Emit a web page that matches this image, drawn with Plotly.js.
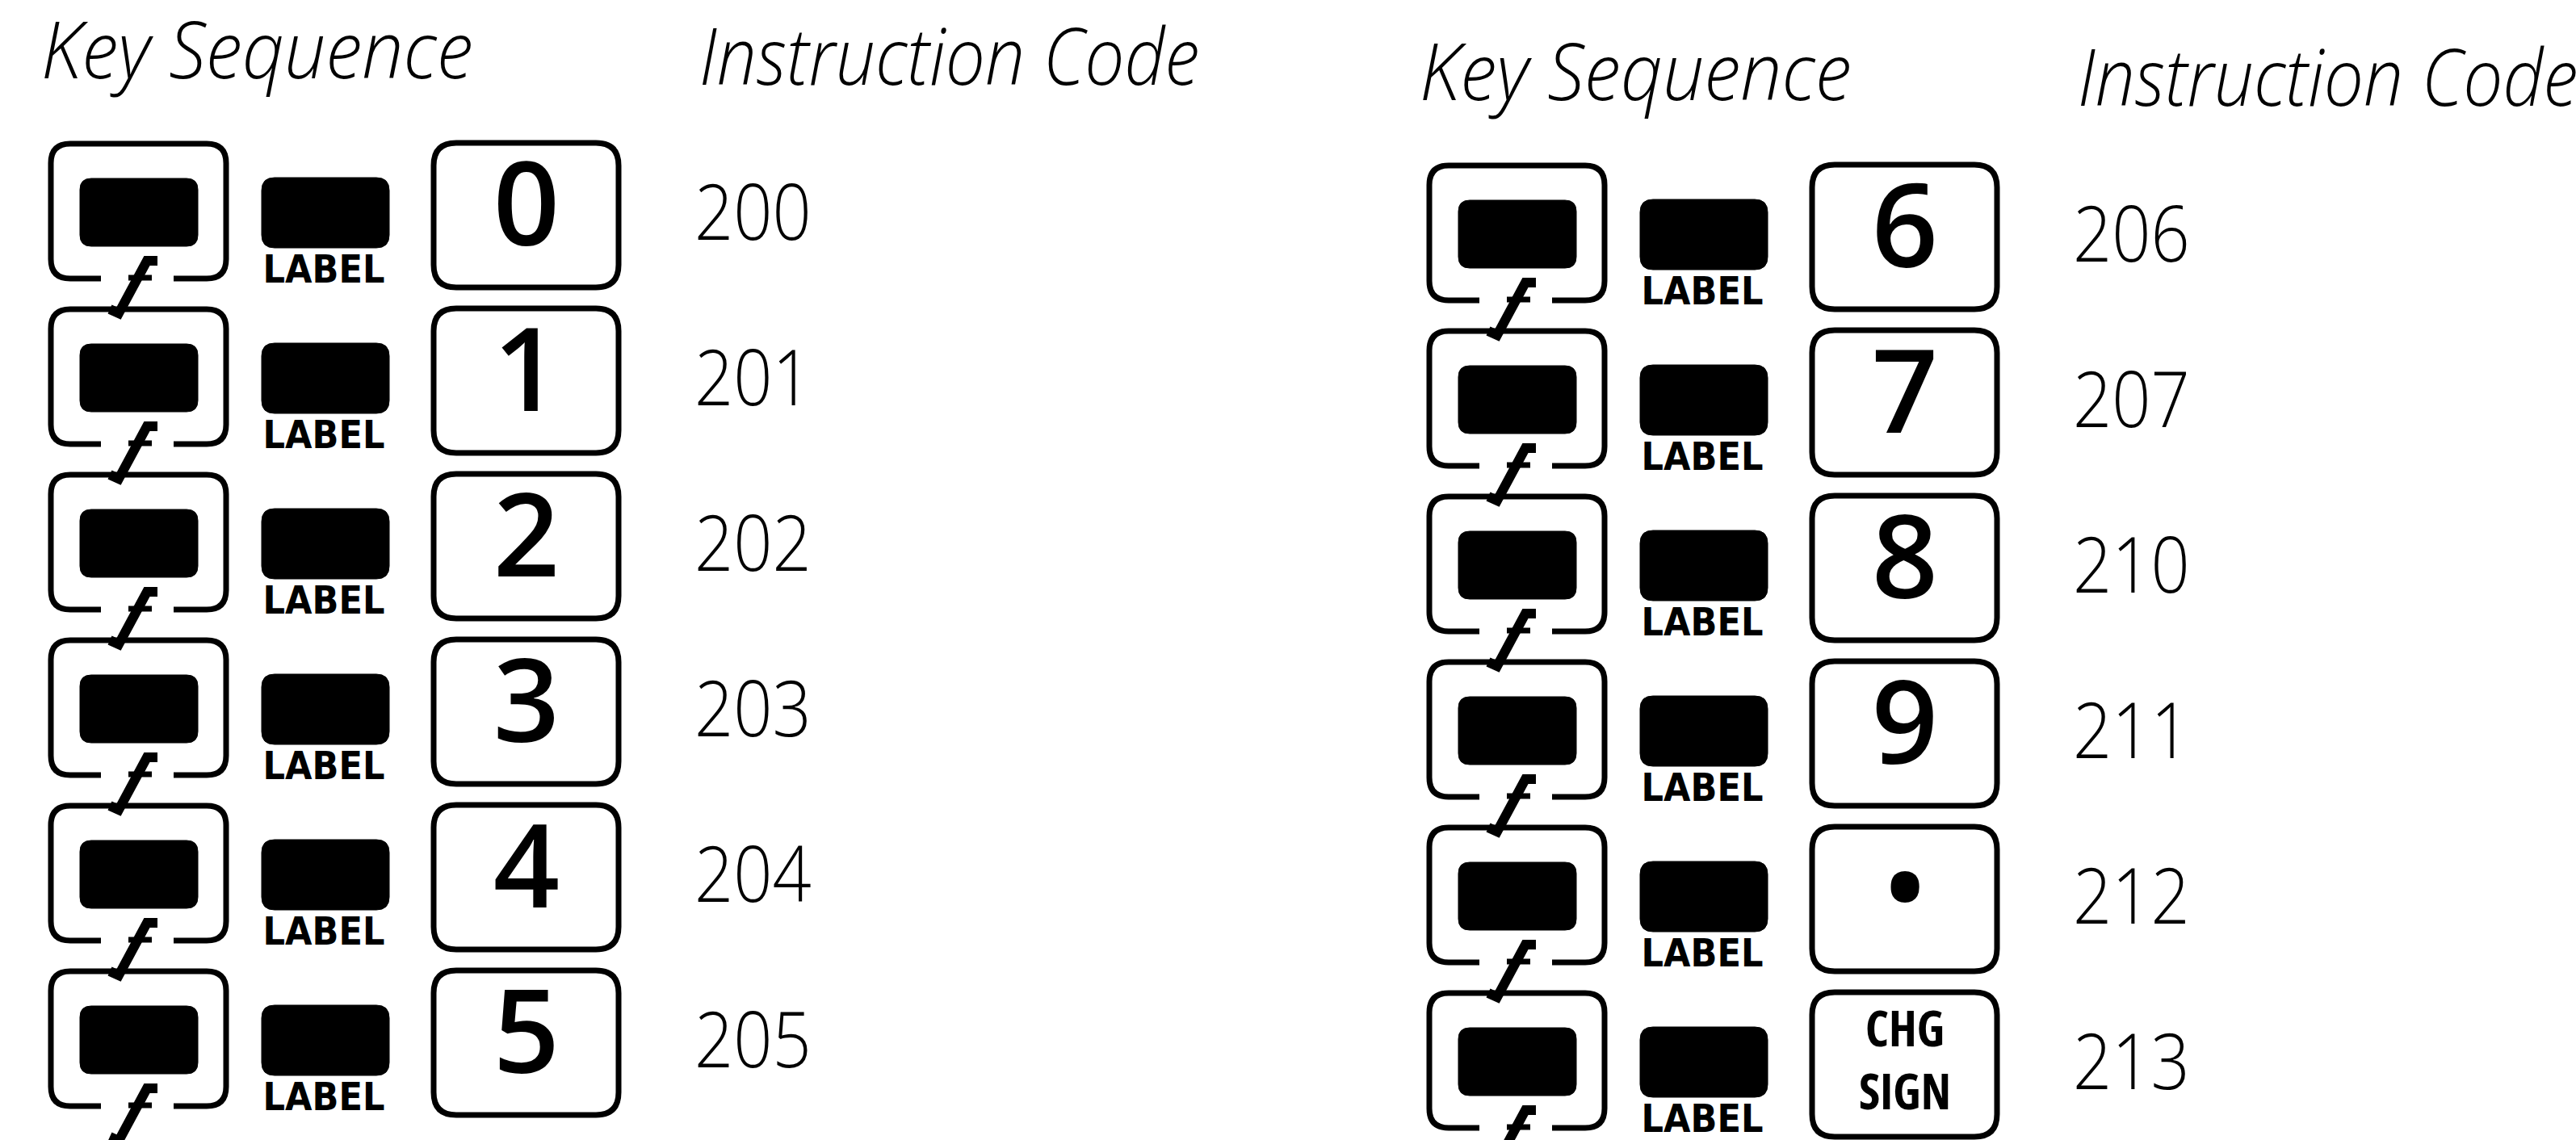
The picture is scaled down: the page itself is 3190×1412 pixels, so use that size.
<!DOCTYPE html>
<html><head><meta charset="utf-8">
<script src="https://cdn.plot.ly/plotly-3.0.1.min.js"></script>
<style>html,body{margin:0;padding:0;background:#fff}#chart{width:3190px;height:1412px}</style>
</head><body><div id="chart"></div>
<script>
// ---- data ----
const keyLabels = ['0','1','2','3','4','5','6','7','8','9','•','CHG<br>SIGN'];
const instructionCodes = ['200','201','202','203','204','205','206','207','210','211','212','213'];
const headerLabels = ['Key Sequence','Instruction Code'];
const labelKeyText = 'LABEL';

// ---- layout constants ----
const W = 3190, H = 1412;
const COL_X = [63, 1770], COL_Y = [178, 205], ROW_STEP = 205, ROWS = 6;
const INK = '#000';

function rr(x0, y0, x1, y1, r) {
  return `M${x0+r},${y0} L${x1-r},${y0} Q${x1},${y0} ${x1},${y0+r} L${x1},${y1-r} Q${x1},${y1} ${x1-r},${y1} L${x0+r},${y1} Q${x0},${y1} ${x0},${y1-r} L${x0},${y0+r} Q${x0},${y0} ${x0+r},${y0} Z`;
}
function openBox(x0, y0, x1, y1, r, g0, g1) {
  return `M${g0},${y1} L${x0+r},${y1} Q${x0},${y1} ${x0},${y1-r} L${x0},${y0+r} Q${x0},${y0} ${x0+r},${y0} L${x1-r},${y0} Q${x1},${y0} ${x1},${y0+r} L${x1},${y1-r} Q${x1},${y1} ${x1-r},${y1} L${g1},${y1}`;
}
function origin(i) {
  const c = Math.floor(i / ROWS), r = i % ROWS;
  return [COL_X[c], COL_Y[c] + r * ROW_STEP];
}

const shapes = [];
const dig = {x: [], y: [], t: []}, cod = {x: [], y: [], t: []}, lab = {x: [], y: [], t: []};
keyLabels.forEach((k, i) => {
  const [x0, y0] = origin(i);
  // f prefix key outline (open at bottom for the f)
  shapes.push({type: 'path', xref: 'x', yref: 'y', path: openBox(x0, y0, x0+217, y0+167, 24, x0+62, x0+152), line: {color: INK, width: 7}});
  // black key face
  shapes.push({type: 'path', xref: 'x', yref: 'y', path: rr(x0+36, y0+43, x0+182, y0+127, 14), fillcolor: INK, line: {color: INK, width: 1}});
  // f glyph with long descender
  shapes.push({type: 'path', xref: 'x', yref: 'y', path: `M${x0+132},${y0+145} L${x0+119},${y0+145} L${x0+84},${y0+210} L${x0+73},${y0+205}`, line: {color: INK, width: 12}});
  shapes.push({type: 'line', xref: 'x', yref: 'y', x0: x0+96, x1: x0+125, y0: y0+166, y1: y0+166, line: {color: INK, width: 7}});
  // LABEL key face
  shapes.push({type: 'path', xref: 'x', yref: 'y', path: rr(x0+261, y0+42, x0+419, y0+129, 16), fillcolor: INK, line: {color: INK, width: 1}});
  // digit key outline
  shapes.push({type: 'path', xref: 'x', yref: 'y', path: rr(x0+474, y0-1, x0+703, y0+178, 28), line: {color: INK, width: 7}});
  dig.x.push(x0+589); dig.y.push(y0+90); dig.t.push(k);
  cod.x.push(x0+797); cod.y.push(y0+95); cod.t.push(instructionCodes[i]);
  lab.x.push(x0+338); lab.y.push(y0+160); lab.t.push(labelKeyText);
});

const hdr = {x: [], y: [], t: []};
COL_X.forEach((cx, c) => {
  hdr.x.push(cx - 12); hdr.y.push(COL_Y[c] - 106); hdr.t.push(headerLabels[0]);
  hdr.x.push(cx + 803); hdr.y.push(COL_Y[c] - 98); hdr.t.push(headerLabels[1]);
});

const multi = keyLabels.map(k => k.includes('<br>'));
const traces = [
  {type: 'scatter', mode: 'text', x: hdr.x, y: hdr.y, text: hdr.t, textposition: 'middle right', hoverinfo: 'skip',
   textfont: {family: 'Open Sans', size: 98, color: INK, style: 'italic', weight: 300}},
  {type: 'scatter', mode: 'text', x: dig.x, y: dig.y, text: dig.t, textposition: 'middle center', hoverinfo: 'skip',
   textfont: {family: 'Open Sans', size: multi.map(m => m ? 60 : 144), color: INK, weight: multi.map(m => m ? 700 : 600)}},
  {type: 'scatter', mode: 'text', x: cod.x, y: cod.y, text: cod.t, textposition: 'middle right', hoverinfo: 'skip',
   textfont: {family: 'Open Sans', size: 96, color: INK, weight: 300}},
  {type: 'scatter', mode: 'text', x: lab.x, y: lab.y, text: lab.t, textposition: 'middle center', hoverinfo: 'skip',
   textfont: {family: 'DejaVu Sans Condensed', size: 48, color: INK, weight: 'bold'}}
];
// font width face and extra horizontal squeeze, per trace and text
function styleFor(ti, el) {
  const s = el.textContent;
  if (ti === 0) return {stretch: '100%', sx: s === headerLabels[0] ? 0.93 : 0.89};
  if (ti === 1) return {stretch: el.querySelector('tspan.line') ? '75%' : '100%', sx: 1};
  if (ti === 2) return {stretch: '100%', sx: 0.88};
  return null;
}

const layout = {
  width: W, height: H, margin: {l: 0, r: 0, t: 0, b: 0},
  paper_bgcolor: '#fff', plot_bgcolor: '#fff', showlegend: false,
  xaxis: {range: [0, W], visible: false, fixedrange: true},
  yaxis: {range: [H, 0], visible: false, fixedrange: true},
  shapes: shapes
};
Plotly.newPlot('chart', traces, layout, {staticPlot: true, displayModeBar: false}).then(gd => {
  gd.querySelectorAll('.scatterlayer .trace').forEach((tr, ti) => {
    tr.querySelectorAll('.textpoint text').forEach(t => {
      const st = styleFor(ti, t);
      if (!st) return;
      t.style.fontStretch = st.stretch;
      if (st.sx !== 1) {
        const ax = parseFloat(t.getAttribute('x')) || 0;
        t.setAttribute('transform', `translate(${ax},0) scale(${st.sx},1) translate(${-ax},0)`);
      }
    });
  });
});
</script></body></html>
